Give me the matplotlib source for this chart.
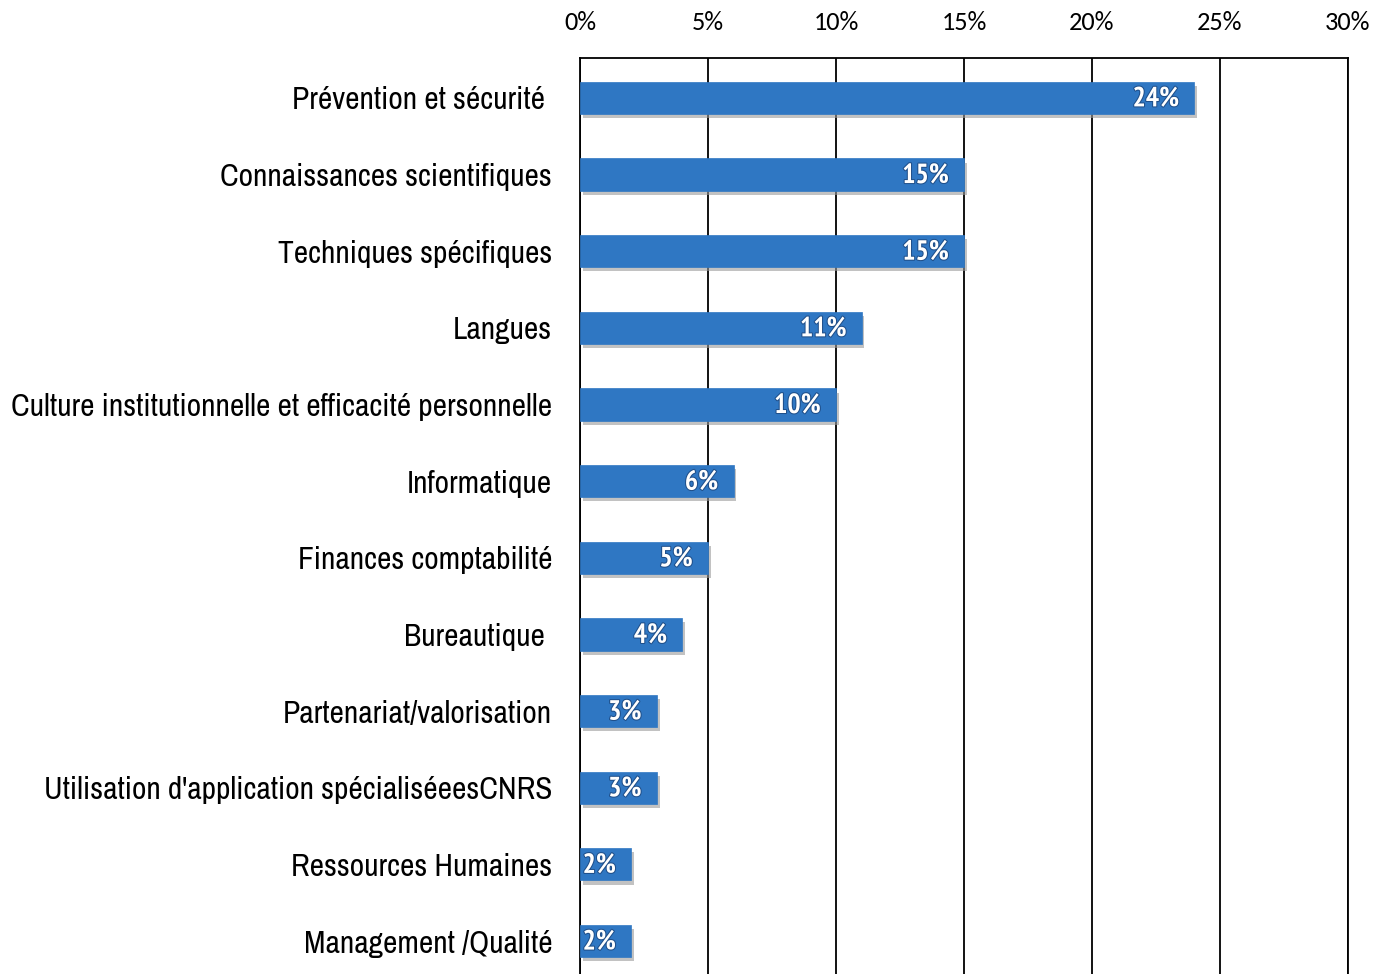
import matplotlib
matplotlib.use("Agg")
import matplotlib.pyplot as plt
import matplotlib.patheffects as pe
from matplotlib.ticker import FuncFormatter, MultipleLocator

categories = [
    "Prévention et sécurité ",
    "Connaissances scientifiques",
    "Techniques spécifiques",
    "Langues",
    "Culture institutionnelle et efficacité personnelle",
    "Informatique",
    "Finances comptabilité",
    "Bureautique ",
    "Partenariat/valorisation",
    "Utilisation d'application spécialiséeesCNRS",
    "Ressources Humaines",
    "Management /Qualité",
]
values = [24, 15, 15, 11, 10, 6, 5, 4, 3, 3, 2, 2]
value_labels = ["24%", "15%", "15%", "11%", "10%", "6%", "5%", "4%", "3%", "3%", "2%", "2%"]

cat_font = ["Archivo Narrow", "PT Sans Narrow", "DejaVu Sans"]
val_font = ["PT Sans Narrow", "Archivo Narrow", "DejaVu Sans"]
tick_font = ["Carlito", "DejaVu Sans"]

W, H = 1375, 974
fig = plt.figure(figsize=(W / 100, H / 100), dpi=100)
ax = fig.add_axes([580 / W, 0, (1348 - 580) / W, (974 - 58) / H])

ypos = list(range(len(categories)))
bars = ax.barh(ypos, values, height=0.42, color="#2f77c3", zorder=3,
               edgecolor="#2f77c3", linewidth=0.5)
for b in bars:
    b.set_path_effects([pe.SimplePatchShadow(offset=(2, -3), shadow_rgbFace="#9a9a9a", alpha=0.6), pe.Normal()])

for y, v, lab in zip(ypos, values, value_labels):
    ax.text(v - 0.6, y + 0.02, lab, ha="right", va="center", color="white",
            fontsize=20, fontweight="bold", family=val_font, zorder=4,
            path_effects=[pe.withStroke(linewidth=1.5, foreground="#1f4f8a")])

ax.set_xlim(0, 30)
ax.set_ylim(11.43, -0.52)
ax.xaxis.set_major_locator(MultipleLocator(5))
ax.xaxis.set_major_formatter(FuncFormatter(lambda x, p: f"{int(round(x))}%"))
ax.xaxis.tick_top()
ax.tick_params(axis="x", length=0, pad=17, labelsize=19)
for t in ax.get_xticklabels():
    t.set_family(tick_font)
ax.grid(axis="x", color="black", linewidth=1.3, zorder=1)
ax.set_yticks(ypos)
ax.set_yticklabels(categories, family=cat_font, fontsize=22.6)
ax.tick_params(axis="y", length=0, pad=20)
for s in ["top", "left", "right"]:
    ax.spines[s].set_color("black")
    ax.spines[s].set_linewidth(1.3)
ax.spines["bottom"].set_visible(False)

fig.savefig("out.png", dpi=100)
